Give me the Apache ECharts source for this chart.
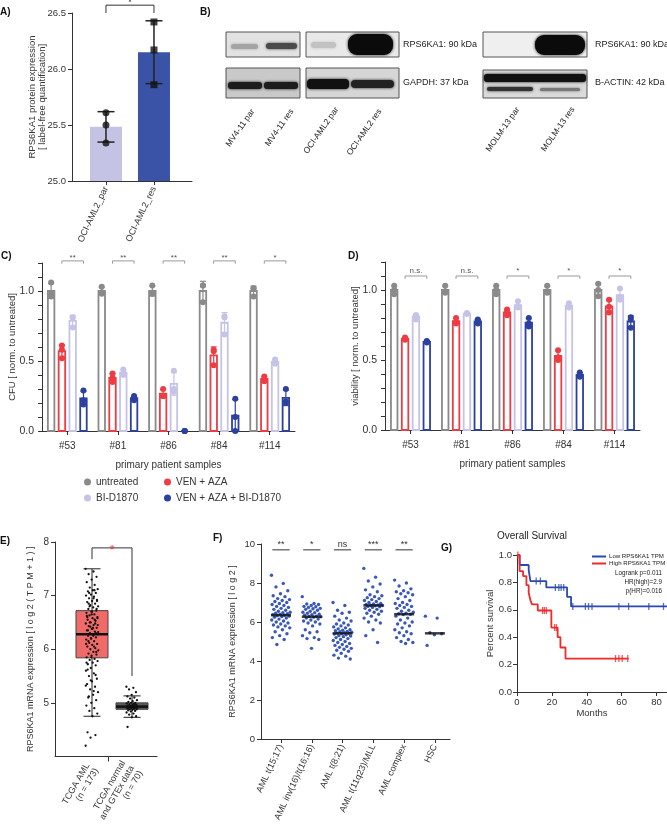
<!DOCTYPE html>
<html><head><meta charset="utf-8">
<script src="https://cdn.jsdelivr.net/npm/echarts@6.0.0/dist/echarts.min.js"></script>
<style>html,body{margin:0;padding:0;background:#fff}#c{width:667px;height:829px}</style>
</head><body><div id="c"></div><script>
// ---------------- DATA ----------------
// Panel A
const aCategories = ['OCI-AML2_par', 'OCI-AML2_res'];
const aParPoints = [25.61, 25.50, 25.34];
const aResPoints = [26.42, 26.17, 25.86];
const aSig = ['*'];

// Panel B (western blot labels)
const laneLabels = ['MV4-11 par', 'MV4-11 res', 'OCI-AML2 par', 'OCI-AML2 res', 'MOLM-13 par', 'MOLM-13 res'];
const blotLabels = ['RPS6KA1: 90 kDa', 'GAPDH: 37 kDa', 'RPS6KA1: 90 kDa', 'B-ACTIN: 42 kDa'];

// Panels C / D
const patients = ['#53', '#81', '#86', '#84', '#114'];
const treatments = ['untreated', 'VEN + AZA', 'BI-D1870', 'VEN + AZA + BI-D1870'];
const cfuUntreated = [[1.06, 0.98, 0.96], [1.03, 0.99, 0.98], [1.04, 0.98, 0.98], [1.04, 1.04, 0.92], [1.02, 1.02, 0.96]];
const cfuVenAza    = [[0.61, 0.58, 0.52], [0.41, 0.38, 0.35], [0.30, 0.25, 0.25], [0.58, 0.57, 0.47], [0.39, 0.37, 0.355]];
const cfuBi        = [[0.81, 0.81, 0.74], [0.44, 0.41, 0.40], [0.43, 0.30, 0.28], [0.82, 0.81, 0.69], [0.51, 0.49, 0.48]];
const cfuCombo     = [[0.29, 0.22, 0.19], [0.25, 0.235, 0.22], [0.0, 0.0, 0.0], [0.23, 0.10, 0.0], [0.30, 0.21, 0.20]];
const cfuSig = ['**', '**', '**', '**', '*'];
const viaUntreated = [[1.03, 1.0, 0.97], [1.03, 0.99, 0.98], [1.03, 1.0, 0.97], [1.03, 0.99, 0.98], [1.045, 1.0, 0.955]];
const viaVenAza    = [[0.66, 0.65, 0.645], [0.80, 0.77, 0.76], [0.86, 0.84, 0.82], [0.57, 0.52, 0.50], [0.93, 0.88, 0.84]];
const viaBi        = [[0.82, 0.82, 0.79], [0.835, 0.83, 0.83], [0.92, 0.88, 0.875], [0.905, 0.885, 0.875], [1.01, 0.95, 0.93]];
const viaCombo     = [[0.635, 0.63, 0.625], [0.79, 0.775, 0.76], [0.80, 0.76, 0.74], [0.41, 0.39, 0.38], [0.805, 0.79, 0.73]];
const viaSig = ['n.s.', 'n.s.', '*', '*', '*'];

// Panel E
const eLabels = ['TCGA AML\n(n = 173)', 'TCGA normal\nand GTEx data\n(n = 70)'];
const eBoxAml = [4.75, 5.84, 6.28, 6.72, 7.5];      // whisker low, Q1, median, Q3, whisker high
const eBoxNormal = [4.73, 4.88, 4.93, 5.0, 5.13];
const ePointsAml = [7.5, 7.45, 7.4, 7.35, 7.3, 7.25, 7.2, 7.15, 7.12, 7.1, 7.08, 7.05, 7.02, 7.0, 6.98, 6.95, 6.92, 6.9, 6.88, 6.85,
  6.82, 6.8, 6.78, 6.75, 6.72, 6.7, 6.68, 6.65, 6.63, 6.6, 6.58, 6.55, 6.53, 6.5, 6.48, 6.45, 6.43, 6.4, 6.38, 6.35,
  6.33, 6.3, 6.28, 6.27, 6.25, 6.22, 6.2, 6.18, 6.15, 6.12, 6.1, 6.08, 6.05, 6.02, 6.0, 5.98, 5.95, 5.92, 5.9, 5.88,
  5.85, 5.82, 5.8, 5.78, 5.75, 5.72, 5.7, 5.65, 5.6, 5.55, 5.5, 5.45, 5.4, 5.35, 5.3, 5.25, 5.2, 5.15, 5.1, 5.05,
  5.0, 4.95, 4.9, 4.85, 4.8, 4.75, 4.45, 4.4, 4.35, 4.2, 6.95, 6.85, 6.75, 6.65, 6.62, 6.55, 6.5, 6.45, 6.4, 6.35,
  6.3, 6.2, 6.1, 6.05, 7.05, 6.9, 6.7, 6.6, 6.48, 6.42, 6.32, 6.25, 6.15, 5.95, 5.85, 5.75, 7.1, 6.8, 6.58, 6.38,
  5.62, 5.52, 5.42, 5.32, 5.22, 5.12];
const ePointsNormal = [5.3, 5.28, 5.25, 5.2, 5.15, 5.12, 5.1, 5.08, 5.05, 5.03, 5.02, 5.0, 5.0, 4.99, 4.98, 4.97, 4.96, 4.95, 4.95, 4.94,
  4.93, 4.93, 4.92, 4.92, 4.91, 4.9, 4.9, 4.89, 4.88, 4.88, 4.87, 4.86, 4.85, 4.84, 4.82, 4.8, 4.78, 4.75, 4.73, 4.55,
  4.97, 4.94, 4.91, 4.96, 4.89];

// Panel F
const fLabels = ['AML t(15;17)', 'AML inv(16)/t(16;16)', 'AML t(8;21)', 'AML t(11q23)/MLL', 'AML complex', 'HSC'];
const fMedians = [6.35, 6.27, 5.42, 6.85, 6.4, 5.42];
const fSig = ['**', '*', 'ns', '***', '**'];
const fT1517 = [8.4, 7.98, 7.8, 7.6, 7.45, 7.35, 7.3, 7.2, 7.15, 7.1, 7.05, 7.0, 6.95, 6.9, 6.85, 6.8, 6.75, 6.7, 6.65, 6.6,
  6.55, 6.5, 6.48, 6.45, 6.42, 6.4, 6.38, 6.35, 6.33, 6.3, 6.28, 6.25, 6.2, 6.15, 6.1, 6.05, 6.0, 5.95, 5.9, 5.85,
  5.8, 5.75, 5.7, 5.6, 5.5, 5.4, 5.3, 5.2, 5.1, 4.85];
const fInv16 = [7.3, 6.95, 6.92, 6.9, 6.85, 6.8, 6.78, 6.75, 6.7, 6.68, 6.65, 6.6, 6.55, 6.5, 6.48, 6.45, 6.4, 6.38, 6.35, 6.3,
  6.28, 6.27, 6.25, 6.2, 6.15, 6.1, 6.05, 6.0, 5.95, 5.9, 5.8, 5.6, 5.5, 5.45, 5.3, 5.2, 5.15, 5.1, 4.65];
const fT821 = [7.0, 6.85, 6.6, 6.5, 6.45, 6.3, 6.2, 6.1, 6.05, 5.95, 5.9, 5.85, 5.8, 5.75, 5.7, 5.65, 5.6, 5.58, 5.55, 5.52,
  5.5, 5.48, 5.45, 5.43, 5.42, 5.4, 5.38, 5.35, 5.3, 5.28, 5.25, 5.2, 5.15, 5.1, 5.05, 5.0, 4.95, 4.9, 4.85, 4.8,
  4.75, 4.7, 4.65, 4.6, 4.55, 4.5, 4.4, 4.3, 4.25, 4.15, 4.1];
const fMll = [8.75, 8.3, 8.1, 7.95, 7.8, 7.65, 7.55, 7.4, 7.35, 7.3, 7.25, 7.2, 7.15, 7.1, 7.05, 7.0, 6.95, 6.92, 6.9, 6.88,
  6.86, 6.85, 6.83, 6.8, 6.78, 6.75, 6.7, 6.65, 6.6, 6.55, 6.5, 6.45, 6.4, 6.3, 6.2, 6.1, 6.0, 5.95, 5.6, 5.3, 4.95];
const fComplex = [8.15, 8.0, 7.85, 7.7, 7.6, 7.55, 7.5, 7.45, 7.4, 7.3, 7.2, 7.1, 7.0, 6.95, 6.9, 6.85, 6.8, 6.75, 6.7, 6.6,
  6.55, 6.5, 6.45, 6.42, 6.4, 6.38, 6.3, 6.2, 6.1, 6.0, 5.95, 5.9, 5.8, 5.7, 5.6, 5.5, 5.45, 5.4, 5.3, 5.2,
  5.1, 5.0, 4.95, 4.9];
const fHsc = [6.3, 6.2, 5.45, 5.4, 5.35, 4.8];

// Panel G (Kaplan-Meier: [months, survival])
const kmLow = [[0, 1], [1.5, 0.927], [6.7, 0.89], [7.7, 0.81], [16.8, 0.763], [28.7, 0.695], [31, 0.625], [86, 0.625]];
const kmHigh = [[0, 1], [1.5, 0.883], [3.5, 0.846], [5.4, 0.78], [6.7, 0.724], [7.7, 0.67], [8.6, 0.64], [11.9, 0.595],
  [19.7, 0.47], [23.3, 0.40], [24.9, 0.325], [27.8, 0.244], [64, 0.244]];
const censorLow = [11, 13.4, 22, 24, 25.3, 26.8, 32, 39.2, 41, 43, 58.4, 64, 75.6, 84];
const censorHigh = [0.5, 14.7, 15.7, 16.8, 21.6, 22.6, 56.5, 58.4, 60.3, 63.5];
const kmLegend = ['Low RPS6KA1 TPM', 'High RPS6KA1 TPM'];
const kmStats = ['Logrank p=0.011', 'HR(high)=2.9', 'p(HR)=0.016'];

// ---------------- HELPERS ----------------
const FONT = '"Liberation Sans", Arial, sans-serif';
const TXT = '#333';
const gray = '#8a8a8a', red = '#ee3c44', lav = '#c6c4e6', blue = '#2c40a0';
const trColors = [gray, red, lav, blue];
function mean(a) { return a.reduce((s, v) => s + v, 0) / a.length; }
function sd(a) { const m = mean(a); return Math.sqrt(a.reduce((s, v) => s + (v - m) * (v - m), 0) / (a.length - 1)); }
const jit = i => ((i * 0.6180339887) % 1) - 0.5;
function survAt(curve, t) { let s = 1; curve.forEach(p => { if (p[0] <= t) s = p[1]; }); return s; }
const LS = { color: '#333', width: 1 };

function errRender(capW, color, lw) {
  return function (params, api) {
    const x = api.value(0), lo = api.value(1), hi = api.value(2);
    const a = api.coord([x, lo]), b = api.coord([x, hi]);
    const st = { stroke: color, lineWidth: lw };
    return { type: 'group', children: [
      { type: 'line', shape: { x1: a[0], y1: a[1], x2: b[0], y2: b[1] }, style: st },
      { type: 'line', shape: { x1: a[0] - capW / 2, y1: a[1], x2: a[0] + capW / 2, y2: a[1] }, style: st },
      { type: 'line', shape: { x1: b[0] - capW / 2, y1: b[1], x2: b[0] + capW / 2, y2: b[1] }, style: st }
    ] };
  };
}
function hollowBarRender(w, color, lw) {
  return function (params, api) {
    const x = api.value(0), v = api.value(1);
    const base = api.coord([x, 0]), top = api.coord([x, v]);
    return { type: 'rect', shape: { x: base[0] - w / 2, y: top[1], width: w, height: base[1] - top[1] },
      style: { fill: '#fff', stroke: color, lineWidth: lw } };
  };
}
function bracketRender(labels, lineColor, textColor, fs, dy) {
  return function (params, api) {
    const x1 = api.value(0), x2 = api.value(1), y = api.value(2), yl = api.value(3), yr = api.value(4);
    const p1 = api.coord([x1, yl]), p2 = api.coord([x1, y]), p3 = api.coord([x2, y]), p4 = api.coord([x2, yr]);
    return { type: 'group', children: [
      { type: 'polyline', shape: { points: [p1, p2, p3, p4] }, style: { stroke: lineColor, lineWidth: 1, fill: null } },
      { type: 'text', x: (p2[0] + p3[0]) / 2, y: p2[1] + dy, style: { text: labels[params.dataIndex], align: 'center', verticalAlign: 'bottom', fill: textColor, font: fs + 'px ' + FONT } }
    ] };
  };
}
function boxRender(boxW, capW) {
  return function (params, api) {
    const x = api.value(0);
    const lo = api.coord([x, api.value(1)]), q1 = api.coord([x, api.value(2)]), md = api.coord([x, api.value(3)]),
      q3 = api.coord([x, api.value(4)]), hi = api.coord([x, api.value(5)]);
    const fill = params.dataIndex === 0 ? '#f06a6a' : '#5a5a5a';
    const st = { stroke: '#222', lineWidth: 1 };
    return { type: 'group', children: [
      { type: 'line', shape: { x1: lo[0], y1: lo[1], x2: lo[0], y2: q1[1] }, style: st },
      { type: 'line', shape: { x1: hi[0], y1: hi[1], x2: hi[0], y2: q3[1] }, style: st },
      { type: 'line', shape: { x1: lo[0] - capW / 2, y1: lo[1], x2: lo[0] + capW / 2, y2: lo[1] }, style: st },
      { type: 'line', shape: { x1: hi[0] - capW / 2, y1: hi[1], x2: hi[0] + capW / 2, y2: hi[1] }, style: st },
      { type: 'rect', shape: { x: q3[0] - boxW / 2, y: q3[1], width: boxW, height: q1[1] - q3[1] }, style: { fill: fill, stroke: '#444', lineWidth: 1 } },
      { type: 'line', shape: { x1: md[0] - boxW / 2, y1: md[1], x2: md[0] + boxW / 2, y2: md[1] }, style: { stroke: '#111', lineWidth: 2.5 } }
    ] };
  };
}

const barOffset = ti => (ti - 1.5) * 0.213;
function cdSeries(axisIdx, sets) {
  const out = [];
  sets.forEach((set, ti) => {
    const off = barOffset(ti), col = trColors[ti];
    out.push({ type: 'custom', name: treatments[ti] + ' bar', xAxisIndex: axisIdx, yAxisIndex: axisIdx, renderItem: hollowBarRender(6.5, col, 1.8), z: 2,
      encode: { x: 0, y: 1 }, data: set.map((pts, pi) => [pi + off, mean(pts)]) });
    out.push({ type: 'custom', xAxisIndex: axisIdx, yAxisIndex: axisIdx, renderItem: errRender(6, col, 1.2), clip: false, z: 3,
      encode: { x: 0, y: [1, 2] }, data: set.map((pts, pi) => [pi + off, mean(pts) - sd(pts), mean(pts) + sd(pts)]) });
    out.push({ type: 'scatter', name: treatments[ti], xAxisIndex: axisIdx, yAxisIndex: axisIdx, symbolSize: 6, z: 4,
      itemStyle: { color: col, opacity: 1 }, data: set.flatMap((pts, pi) => pts.map(v => [pi + off, v])) });
  });
  return out;
}

// ---------------- AXES ----------------
const lblBase = { color: TXT, fontFamily: FONT, fontSize: 10 };
function mk(o) {
  return Object.assign({
    type: 'value', splitLine: { show: false },
    axisLine: { show: true, onZero: false, lineStyle: LS },
    axisTick: Object.assign({ show: true, length: 4, lineStyle: LS }, o.tick || {}),
    axisLabel: Object.assign({}, lblBase, o.label || {}),
    nameTextStyle: Object.assign({ color: TXT, fontFamily: FONT, fontSize: 10 }, o.nameStyle || {}),
    nameLocation: 'middle',
    nameMoveOverlap: false
  }, o.rest || {});
}
const halfFmt = v => (Math.abs(v * 2 - Math.round(v * 2)) < 1e-6 ? v.toFixed(1) : '');

const xAxes = [
  mk({ rest: { gridIndex: 0, min: -0.708, max: 1.792 }, tick: { customValues: [0, 1] },
    label: { customValues: [0, 1], formatter: v => aCategories[Math.round(v)], rotate: 65, fontSize: 9, margin: 6 } }),
  mk({ rest: { gridIndex: 1, min: -0.5, max: 4.5, name: 'primary patient samples', nameGap: 29 }, tick: { customValues: [0, 1, 2, 3, 4] },
    label: { customValues: [0, 1, 2, 3, 4], formatter: v => patients[Math.round(v)], margin: 10 } }),
  mk({ rest: { gridIndex: 2, min: -0.5, max: 4.5, name: 'primary patient samples', nameGap: 29 }, tick: { customValues: [0, 1, 2, 3, 4] },
    label: { customValues: [0, 1, 2, 3, 4], formatter: v => patients[Math.round(v)], margin: 10 } }),
  mk({ rest: { gridIndex: 3, min: -0.925, max: 1.625 }, tick: { customValues: [0.4], length: 5 },
    label: { customValues: [0, 1], formatter: v => eLabels[Math.round(v)], rotate: 60, fontSize: 9, margin: 10, lineHeight: 10 } }),
  mk({ rest: { gridIndex: 4, min: -0.65, max: 5.49 }, tick: { customValues: [0, 1, 2, 3, 4, 5] },
    label: { customValues: [0, 1, 2, 3, 4, 5], formatter: v => fLabels[Math.round(v)], rotate: 65, fontSize: 9, margin: 6 } }),
  mk({ rest: { gridIndex: 5, min: 0, max: 86, name: 'Months', nameGap: 16 }, tick: { customValues: [0, 20, 40, 60, 80] },
    label: { customValues: [0, 20, 40, 60, 80], fontSize: 9.5, margin: 5 }, nameStyle: { fontSize: 9.5 } })
];
const yAxes = [
  mk({ rest: { gridIndex: 0, min: 25, max: 26.5, interval: 0.5, name: 'RPS6KA1 protein expression\n[ label-free quantification]', nameGap: 24 },
    label: { formatter: v => v.toFixed(1), fontSize: 9.5, margin: 6 }, nameStyle: { fontSize: 9.5, lineHeight: 10.5 } }),
  mk({ rest: { gridIndex: 1, min: 0, max: 1.2, interval: 0.1, name: 'CFU [ norm. to untreated]', nameGap: 25 },
    label: { formatter: halfFmt, fontSize: 10.5, margin: 8 }, nameStyle: { fontSize: 9.5 } }),
  mk({ rest: { gridIndex: 2, min: 0, max: 1.2, interval: 0.1, name: 'viability [ norm. to untreated]', nameGap: 25 },
    label: { formatter: halfFmt, fontSize: 10.5, margin: 8 }, nameStyle: { fontSize: 9.5 } }),
  mk({ rest: { gridIndex: 3, min: 4, max: 8, interval: 1, name: 'RPS6KA1 mRNA expression [ l o g 2 ( T P M + 1 ) ]', nameGap: 20 },
    tick: { customValues: [5, 6, 7, 8] }, label: { customValues: [5, 6, 7, 8], fontSize: 10, margin: 6 }, nameStyle: { fontSize: 9 } }),
  mk({ rest: { gridIndex: 4, min: 0, max: 10, interval: 2, name: 'RPS6KA1 mRNA expression [ l o g 2 ]', nameGap: 24 },
    label: { fontSize: 9.5, margin: 6 }, nameStyle: { fontSize: 9 } }),
  mk({ rest: { gridIndex: 5, min: 0, max: 1, interval: 0.2, name: 'Percent survival', nameGap: 22 },
    label: { formatter: v => v.toFixed(1), fontSize: 9.5, margin: 5 }, nameStyle: { fontSize: 9.5 } })
];

// ---------------- SERIES ----------------
const series = [];
// A
series.push({ type: 'bar', xAxisIndex: 0, yAxisIndex: 0, barWidth: 32, z: 2,
  data: [{ value: [0, mean(aParPoints)], itemStyle: { color: '#c5c3e3' } }, { value: [1, mean(aResPoints)], itemStyle: { color: '#3a53a6' } }] });
series.push({ type: 'custom', xAxisIndex: 0, yAxisIndex: 0, renderItem: errRender(17, '#222', 1.5), clip: false, z: 3, encode: { x: 0, y: [1, 2] },
  data: [[0, mean(aParPoints) - sd(aParPoints), mean(aParPoints) + sd(aParPoints)], [1, mean(aResPoints) - sd(aResPoints), mean(aResPoints) + sd(aResPoints)]] });
series.push({ type: 'scatter', xAxisIndex: 0, yAxisIndex: 0, symbol: 'circle', symbolSize: 7, itemStyle: { color: '#111' }, z: 4, data: aParPoints.map(v => [0, v]) });
series.push({ type: 'scatter', xAxisIndex: 0, yAxisIndex: 0, symbol: 'rect', symbolSize: 7, itemStyle: { color: '#111' }, z: 4, data: aResPoints.map(v => [1, v]) });
series.push({ type: 'custom', xAxisIndex: 0, yAxisIndex: 0, clip: false, renderItem: bracketRender(aSig, '#333', '#333', 10, 3), data: [[0, 1, 26.57, 26.5, 26.5]] });
// C / D
series.push(...cdSeries(1, [cfuUntreated, cfuVenAza, cfuBi, cfuCombo]));
series.push(...cdSeries(2, [viaUntreated, viaVenAza, viaBi, viaCombo]));
series.push({ type: 'custom', xAxisIndex: 1, yAxisIndex: 1, clip: false, renderItem: bracketRender(cfuSig, '#999', '#555', 8, 1),
  data: patients.map((p, i) => [i - 0.107, i + 0.32, 1.215, 1.195, 1.195]) });
series.push({ type: 'custom', xAxisIndex: 2, yAxisIndex: 2, clip: false, renderItem: bracketRender(viaSig, '#999', '#555', 8, -1),
  data: patients.map((p, i) => [i - 0.107, i + 0.32, 1.1, 1.08, 1.08]) });
// E
series.push({ type: 'custom', xAxisIndex: 3, yAxisIndex: 3, renderItem: boxRender(32, 17), z: 2, encode: { x: 0, y: [1, 5] },
  data: [[0].concat(eBoxAml), [1].concat(eBoxNormal)] });
series.push({ type: 'scatter', xAxisIndex: 3, yAxisIndex: 3, symbolSize: 2.3, itemStyle: { color: '#111', opacity: 1 }, z: 4,
  data: ePointsAml.map((v, i) => [jit(i) * 0.32, v]) });
series.push({ type: 'scatter', xAxisIndex: 3, yAxisIndex: 3, symbolSize: 2.3, itemStyle: { color: '#111', opacity: 1 }, z: 4,
  data: ePointsNormal.map((v, i) => [1 + jit(i) * 0.28, v]) });
series.push({ type: 'custom', xAxisIndex: 3, yAxisIndex: 3, clip: false, renderItem: bracketRender(['*'], '#333', '#e8343c', 13, 9),
  data: [[0, 1, 7.89, 7.68, 5.5]] });
// F
[fT1517, fInv16, fT821, fMll, fComplex, fHsc].forEach((grp, g) => {
  series.push({ type: 'scatter', xAxisIndex: 4, yAxisIndex: 4, symbolSize: 3.4, itemStyle: { color: '#3a58b6', opacity: 1 }, z: 3,
    data: grp.map((v, i) => [g + jit(i) * 0.62, v]) });
});
series.push({ type: 'scatter', xAxisIndex: 4, yAxisIndex: 4, symbol: 'rect', symbolSize: [20, 2.5], itemStyle: { color: '#111' }, z: 5,
  data: fMedians.map((v, g) => [g, v]) });
series.push({ type: 'custom', xAxisIndex: 4, yAxisIndex: 4, clip: false, renderItem: bracketRender(fSig, '#333', '#333', 9, -1),
  data: fSig.map((s, g) => [g - 0.28, g + 0.28, 9.7, 9.7, 9.7]) });
// G
series.push({ type: 'line', name: kmLegend[0], xAxisIndex: 5, yAxisIndex: 5, step: 'end', symbol: 'none', color: '#2a48b0',
  lineStyle: { width: 1.8, color: '#2a48b0' }, data: kmLow, z: 3 });
series.push({ type: 'line', name: kmLegend[1], xAxisIndex: 5, yAxisIndex: 5, step: 'end', symbol: 'none', color: '#ee2a2a',
  lineStyle: { width: 1.8, color: '#ee2a2a' }, data: kmHigh, z: 3 });
series.push({ type: 'scatter', xAxisIndex: 5, yAxisIndex: 5, symbol: 'rect', symbolSize: [1.3, 7], itemStyle: { color: '#2a48b0' }, z: 4,
  data: censorLow.map(t => [t, survAt(kmLow, t)]) });
series.push({ type: 'scatter', xAxisIndex: 5, yAxisIndex: 5, symbol: 'rect', symbolSize: [1.3, 7], itemStyle: { color: '#ee2a2a' }, z: 4,
  data: censorHigh.map(t => [t, survAt(kmHigh, t)]) });

// ---------------- GRAPHICS (panel letters, western blot, text) ----------------
const g = [];
function letter(t, x, y) { g.push({ type: 'text', x: x, y: y, style: { text: t, font: 'bold 10px ' + FONT, fill: '#111', verticalAlign: 'middle' } }); }
letter('A)', 0, 12); letter('B)', 200, 12); letter('C)', 1, 256); letter('D)', 348, 256);
letter('E)', 0, 541); letter('F)', 213, 538); letter('G)', 441, 548);
function frame(x, y, w, h, fill) { g.push({ type: 'rect', shape: { x: x, y: y, width: w, height: h }, style: { fill: fill, stroke: '#555', lineWidth: 1 } }); }
function band(x, y, w, h, r, fill) { g.push({ type: 'rect', shape: { x: x, y: y, width: w, height: h, r: r }, style: { fill: fill, shadowBlur: 3, shadowColor: fill } }); }
frame(226, 32, 74, 25, '#e2e2e2'); frame(306, 32, 93, 25, '#e9e9e9'); frame(483, 32, 104, 25, '#efefef');
frame(226, 68, 74, 30, '#c9c9c9'); frame(306, 68, 93, 30, '#d6d6d6'); frame(483, 70, 104, 28, '#dadada');
band(231, 44, 27, 5, 2.5, '#a4a4a4'); band(266, 43, 31, 6, 3, '#4a4a4a');
band(311, 42, 25, 6, 3, '#c2c2c2'); band(348, 34, 45, 21, 9, '#0b0b0b');
band(535, 35, 50, 20, 9, '#0b0b0b');
band(228, 82, 34, 7, 3, '#1c1c1c'); band(264, 82, 34, 7, 3, '#1c1c1c');
band(307, 79, 42, 10, 4, '#111'); band(351, 80, 43, 8, 4, '#222');
band(484, 74, 102, 8, 3, '#111'); band(487, 87, 46, 4, 2, '#333'); band(540, 88, 40, 3, 1.5, '#777');
[[403, 45, 0], [403, 83, 1], [595, 45, 2], [595, 83, 3]].forEach(p =>
  g.push({ type: 'text', x: p[0], y: p[1], style: { text: blotLabels[p[2]], font: '9px ' + FONT, fill: '#222', verticalAlign: 'middle' } }));
[[253, 110], [292, 110], [337, 108], [380, 110], [518, 108], [573, 108]].forEach((p, i) =>
  g.push({ type: 'text', x: p[0], y: p[1], rotation: 55 * Math.PI / 180, style: { text: laneLabels[i], font: '8.5px ' + FONT, fill: '#222', align: 'right', verticalAlign: 'middle' } }));
g.push({ type: 'text', x: 497, y: 536, style: { text: 'Overall Survival', font: '10px ' + FONT, fill: '#222', verticalAlign: 'middle' } });
kmStats.forEach((t, i) => g.push({ type: 'text', x: 662, y: 573 + i * 9, style: { text: t, font: '6.3px ' + FONT, fill: '#222', align: 'right', verticalAlign: 'middle' } }));

// ---------------- CHART ----------------
const chart = echarts.init(document.getElementById('c'), null, { renderer: 'canvas', width: 667, height: 829 });
chart.setOption({
  animation: false,
  backgroundColor: '#fff',
  textStyle: { fontFamily: FONT },
  grid: [
    { left: 72, top: 13, width: 120, height: 168 },
    { left: 42, top: 263, width: 253, height: 168 },
    { left: 385, top: 262, width: 255, height: 168 },
    { left: 55, top: 542, width: 102, height: 223 },
    { left: 261, top: 544, width: 189, height: 195 },
    { left: 517, top: 555, width: 150, height: 137 }
  ],
  legend: [
    { left: 84, top: 477, padding: 0, orient: 'vertical', itemGap: 6, icon: 'circle', itemWidth: 7, itemHeight: 7, selectedMode: false,
      data: ['untreated', 'BI-D1870'], textStyle: { fontSize: 10, color: TXT, fontFamily: FONT } },
    { left: 164, top: 477, padding: 0, orient: 'vertical', itemGap: 6, icon: 'circle', itemWidth: 7, itemHeight: 7, selectedMode: false,
      data: ['VEN + AZA', 'VEN + AZA + BI-D1870'], textStyle: { fontSize: 10, color: TXT, fontFamily: FONT } },
    { left: 592, top: 553, padding: 0, orient: 'vertical', itemGap: 0, icon: 'rect', itemWidth: 14, itemHeight: 2, selectedMode: false,
      data: kmLegend, textStyle: { fontSize: 6.1, color: '#222', fontFamily: FONT, lineHeight: 7, padding: [0, 0, 0, -2] } }
  ],
  xAxis: xAxes,
  yAxis: yAxes,
  series: series,
  graphic: g
});
</script></body></html>
